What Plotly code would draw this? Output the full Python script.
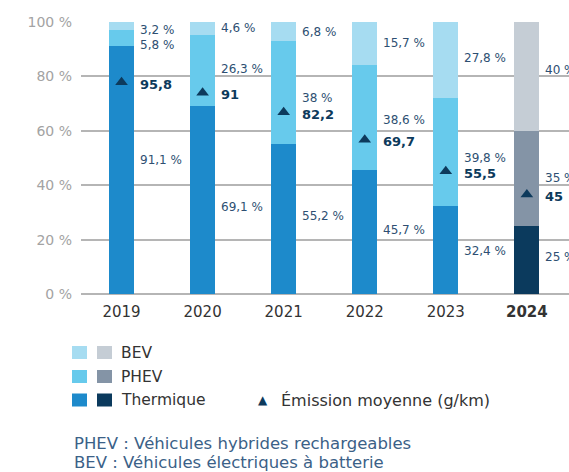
import plotly.graph_objects as go

years = ["2019", "2020", "2021", "2022", "2023", "2024"]
thermique = [91.1, 69.1, 55.2, 45.7, 32.4, 25]
phev = [5.8, 26.3, 38, 38.6, 39.8, 35]
bev = [3.2, 4.6, 6.8, 15.7, 27.8, 40]
emission = [95.8, 91, 82.2, 69.7, 55.5, 45]
tick_labels = ["2019", "2020", "2021", "2022", "2023", "<b>2024</b>"]

# styles
C_BEV = ["#a6dcf1"] * 5 + ["#c5cdd5"]
C_PHEV = ["#67caec"] * 5 + ["#8494a6"]
C_TH = ["#1d8acb"] * 5 + ["#0b3a5d"]
NAVY = "#0d3a5c"
LBL = "#2e4f72"
FONT = "DejaVu Sans"

# pixel nudges for percentage labels (styling only)
off_th = [10, -7, 3, 2, -1, 3]
off_ph = [-7, 1, -6, -3, -6, 0]
off_bev = [-4, 0, -1, 0, 2, 6]

fig = go.Figure()
W = 0.31
xi = list(range(len(years)))
fig.add_bar(x=xi, y=thermique, marker_color=C_TH, width=W, name="Thermique",
            marker_line_width=0)
fig.add_bar(x=xi, y=phev, marker_color=C_PHEV, width=W, name="PHEV",
            marker_line_width=0)
fig.add_bar(x=xi, y=bev, marker_color=C_BEV, width=W, name="BEV",
            marker_line_width=0)
fig.add_scatter(x=xi, y=emission, yaxis="y2", mode="markers",
                marker=dict(symbol="triangle-up", size=11, color=NAVY),
                name="Émission moyenne (g/km)")

def fmt(v):
    s = ("%g" % v).replace(".", ",")
    return s + " %"

ann = []
for i, yr in enumerate(years):
    t, p, b = thermique[i], phev[i], bev[i]
    for val, center, off in ((t, t / 2, off_th[i]),
                             (p, t + p / 2, off_ph[i]),
                             (b, t + p + b / 2, off_bev[i])):
        ann.append(dict(x=i, y=center, xref="x", yref="y", text=fmt(val),
                        showarrow=False, xanchor="left", yanchor="middle",
                        xshift=16, yshift=off,
                        font=dict(family=FONT, size=12, color=LBL)))
    ann.append(dict(x=i, y=emission[i], xref="x", yref="y2",
                    text="<b>%s</b>" % ("%g" % emission[i]).replace(".", ","),
                    showarrow=False, xanchor="left", yanchor="middle",
                    xshift=16, yshift=-2,
                    font=dict(family=FONT, size=13, color=NAVY)))

# legend (built manually)
shapes = []
rows = [("BEV", 0, 352.5), ("PHEV", 1, 376.5), ("Thermique", 2, 400)]
cols_l = [C_BEV, C_PHEV, C_TH]
WID = 569.0
for label, k, yc in rows:
    for j, cx in enumerate((72, 97)):
        col = cols_l[k][0] if j == 0 else cols_l[k][5]
        shapes.append(dict(type="rect", xref="paper", yref="paper",
                           x0=(cx - 81) / (WID - 81), x1=(cx + 15 - 81) / (WID - 81),
                           y0=(294 - (yc + 6.5)) / 272,
                           y1=(294 - (yc - 6.5)) / 272,
                           fillcolor=col, line_width=0))
    ann.append(dict(xref="paper", yref="paper", x=(119 - 81) / (WID - 81),
                    y=(294 - yc) / 272, text=label, showarrow=False,
                    xanchor="left", yanchor="middle",
                    font=dict(family=FONT, size=15.5, color="#333333")))
ann.append(dict(xref="paper", yref="paper", x=(263 - 81) / (WID - 81),
                y=(294 - 400) / 272, text="▲", showarrow=False,
                xanchor="center", yanchor="middle",
                font=dict(family="DejaVu Sans", size=12, color=NAVY)))
ann.append(dict(xref="paper", yref="paper", x=(279 - 81) / (WID - 81),
                y=(294 - 400) / 272, text="Émission moyenne (g/km)", showarrow=False,
                xanchor="left", yanchor="middle",
                font=dict(family=FONT, size=16, color="#333333")))
for txt, yc in (("PHEV : Véhicules hybrides rechargeables", 443),
                ("BEV : Véhicules électriques à batterie", 462)):
    ann.append(dict(xref="paper", yref="paper", x=(72 - 81) / (WID - 81),
                    y=(294 - yc) / 272, text=txt, showarrow=False,
                    xanchor="left", yanchor="middle",
                    font=dict(family=FONT, size=16.5, color="#3b6187")))

fig.update_layout(
    width=569, height=472,
    margin=dict(l=81, r=0, t=22, b=178),
    barmode="stack",
    plot_bgcolor="white", paper_bgcolor="white",
    showlegend=False,
    annotations=ann, shapes=shapes,
    xaxis=dict(range=[-0.5, 5.52], tickvals=xi,
               ticktext=tick_labels, showgrid=False, showline=False,
               zeroline=False, ticks="", ticklabelstandoff=7,
               tickfont=dict(family=FONT, size=15, color="#333333")),
    yaxis=dict(range=[0, 100], tickvals=[0, 20, 40, 60, 80, 100],
               ticktext=["0 %", "20 %", "40 %", "60 %", "80 %", "100 %"],
               showgrid=True, gridcolor="#b5b5b5", gridwidth=1.5,
               zeroline=True, zerolinecolor="#b5b5b5", zerolinewidth=1.5,
               showline=False, ticks="", ticklabelstandoff=8,
               tickfont=dict(family=FONT, size=14, color="#a3a3a3")),
    yaxis2=dict(range=[0, 123], overlaying="y", visible=False),
)
fig.write_html("out.html", config={"displayModeBar": False},
               post_script="document.body.style.margin='0';document.body.style.padding='0';")
